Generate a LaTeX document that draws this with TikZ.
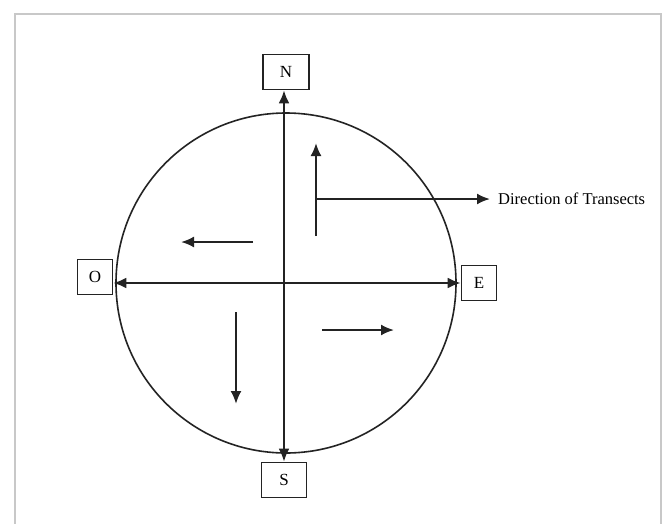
\documentclass[tikz,border=0pt]{standalone}
\usepackage{fontspec}
\setmainfont{Liberation Serif}
\usepackage{tikz}
\usetikzlibrary{positioning,arrows.meta,calc}
\definecolor{framegray}{RGB}{200,200,200}
\definecolor{inkgray}{RGB}{35,35,35}
\tikzset{
  cbox/.style={draw=inkgray, line width=1.6pt, fill=white, minimum height=35pt, inner sep=0pt, font=\fontsize{17}{19}\selectfont},
  axis/.style={{Latex[length=13pt,width=11pt]}-{Latex[length=13pt,width=11pt]}, line width=2.2pt, draw=inkgray},
  arr/.style={-{Latex[length=13pt,width=11pt]}, line width=2pt, draw=inkgray},
}

\begin{document}
\begin{tikzpicture}[x=1pt,y=-1pt]
    \useasboundingbox (0,0) rectangle (665,523);
    \draw[framegray, line width=1.5pt] (15,530) -- (15,14) -- (661,14) -- (661,530);
    \coordinate (c) at (284,283);
    \draw[inkgray, line width=1.6pt] (286,283) circle (170);
    % cardinal boxes
    \node[cbox, minimum width=46pt] (N) at (286,72) {N};
    \node[cbox, minimum width=45pt] (S) at (284,480) {S};
    \node[cbox, minimum width=35pt] (O) at (95,277) {O};
    \node[cbox, minimum width=35pt] (E) at (479,283) {E};
    \draw[axis] (N.south -| c) -- (S.north -| c);
    \draw[axis] (O.east |- c) -- (E.west |- c);
    % transects
    \foreach \nm/\xa/\ya/\xb/\yb in {up/316/236/316/143, lt/253/242/181/242, rt/322/330/394/330, dn/236/312/236/404}{
      \coordinate (\nm a) at (\xa,\ya);
      \coordinate (\nm b) at (\xb,\yb);
      \draw[arr] (\nm a) -- (\nm b);
    }
    \node[right, inner sep=0pt, inner xsep=8pt, font=\fontsize{16.5}{18}\selectfont] (lbl) at (490,199) {Direction of Transects};
    \draw[arr] (upa |- lbl.west) -- (lbl.west);
  \end{tikzpicture}
\end{document}
